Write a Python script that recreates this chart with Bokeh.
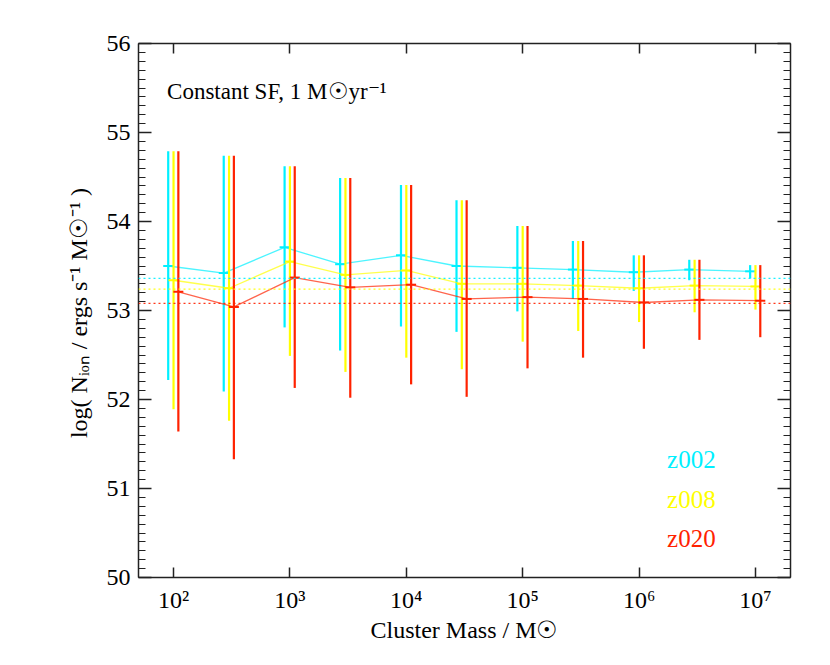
from bokeh.plotting import figure
from bokeh.models import (FixedTicker, SingleIntervalTicker, LinearAxis, LogAxis,
                          Span, Label, Range1d, CustomJSTickFormatter)
from bokeh.embed import file_html
from bokeh.resources import INLINE

# ---------------- data ----------------
mass = [1e2, 3e2, 1e3, 3e3, 1e4, 3e4, 1e5, 3e5, 1e6, 3e6, 1e7]

z002_mid = [53.50, 53.42, 53.71, 53.52, 53.62, 53.50, 53.48, 53.46, 53.43, 53.46, 53.44]
z002_hi = [54.79, 54.74, 54.62, 54.49, 54.41, 54.24, 53.95, 53.78, 53.62, 53.57, 53.51]
z002_lo = [52.22, 52.09, 52.81, 52.55, 52.82, 52.76, 52.99, 53.13, 53.22, 53.34, 53.36]

z008_mid = [53.34, 53.25, 53.55, 53.40, 53.45, 53.30, 53.30, 53.28, 53.25, 53.28, 53.27]
z008_hi = [54.79, 54.74, 54.62, 54.49, 54.41, 54.24, 53.95, 53.78, 53.62, 53.57, 53.51]
z008_lo = [51.89, 51.76, 52.49, 52.31, 52.47, 52.34, 52.65, 52.77, 52.87, 52.98, 53.01]

z020_mid = [53.21, 53.04, 53.37, 53.26, 53.29, 53.13, 53.15, 53.13, 53.09, 53.12, 53.11]
z020_hi = [54.79, 54.74, 54.62, 54.49, 54.41, 54.24, 53.95, 53.78, 53.62, 53.57, 53.51]
z020_lo = [51.64, 51.33, 52.13, 52.02, 52.17, 52.03, 52.35, 52.47, 52.57, 52.67, 52.70]

series_names = ["z002", "z008", "z020"]
series_mid = [z002_mid, z008_mid, z020_mid]
series_hi = [z002_hi, z008_hi, z020_hi]
series_lo = [z002_lo, z008_lo, z020_lo]
series_mean = [53.36, 53.24, 53.08]      # dotted reference levels
mass_shift = [0.9, 1.0, 1.1]             # horizontal offset factor per series

x_ticks = [1e2, 1e3, 1e4, 1e5, 1e6, 1e7]
x_tick_labels = ["10²", "10³", "10⁴", "10⁵", "10⁶", "10⁷"]

colors = ["#00f0ff", "#ffff00", "#ff2200"]
FONT = "Liberation Serif"

# ---------------- figure ----------------
p = figure(x_axis_type="log", frame_width=652, frame_height=534,
           x_range=Range1d(50, 2e7), y_range=Range1d(50, 56),
           output_backend="svg", toolbar_location=None,
           min_border_left=138, min_border_top=43, min_border_right=30,
           min_border_bottom=80, background_fill_color="white",
           border_fill_color="white")
p.grid.visible = False
p.outline_line_color = None


def style_axis(ax):
    ax.axis_line_color = "#222222"
    ax.axis_line_width = 1.5
    ax.major_tick_line_color = "#222222"
    ax.minor_tick_line_color = "#222222"
    ax.major_tick_line_width = 1.5
    ax.minor_tick_line_width = 1.2
    ax.major_tick_out = 0
    ax.minor_tick_out = 0
    ax.major_label_text_font = FONT
    ax.major_label_text_font_size = "24px"
    ax.major_label_text_color = "black"
    ax.axis_label_text_font = FONT
    ax.axis_label_text_font_size = "24px"
    ax.axis_label_text_font_style = "normal"
    ax.axis_label_text_color = "black"


def hide_labels(ax):
    ax.formatter = CustomJSTickFormatter(code="return '';")
    ax.major_label_text_font_size = "8px"
    ax.major_label_standoff = 0


xax = p.xaxis[0]
xax.ticker = FixedTicker(ticks=x_ticks, minor_ticks=[])
xax.major_label_overrides = {t: l for t, l in zip(x_ticks, x_tick_labels)}
style_axis(xax)
xax.major_tick_in = 10
xax.major_label_standoff = 9
xax.axis_label = "Cluster Mass / M☉"
xax.axis_label_standoff = 1

yax = p.yaxis[0]
yax.ticker = SingleIntervalTicker(interval=1, num_minor_ticks=10)
style_axis(yax)
yax.major_tick_in = 13
yax.minor_tick_in = 7
yax.major_label_standoff = 8
yax.axis_label = "log( Nᵢₒₙ / ergs s⁻¹ M☉⁻¹ )"
yax.axis_label_standoff = 12

top = LogAxis(ticker=FixedTicker(ticks=x_ticks, minor_ticks=[]))
style_axis(top)
hide_labels(top)
top.major_tick_in = 10
p.add_layout(top, "above")

right = LinearAxis(ticker=SingleIntervalTicker(interval=1, num_minor_ticks=10))
style_axis(right)
hide_labels(right)
right.major_tick_in = 13
right.minor_tick_in = 7
p.add_layout(right, "right")

# ---------------- marks ----------------
for name, mid, hi, lo, mean, shift, col in zip(series_names, series_mid, series_hi,
                                               series_lo, series_mean, mass_shift, colors):
    xs = [m * shift for m in mass]
    p.add_layout(Span(location=mean, dimension="width", line_color=col,
                      line_dash="2 3", line_width=1.2, line_alpha=0.9))
    p.segment(x0=xs, y0=lo, x1=xs, y1=hi, line_color=col, line_width=2.2)
    p.line(xs, mid, line_color=col, line_width=1.3, line_alpha=0.7)
    p.scatter(xs, mid, marker="dash", size=10, line_color=col, line_width=2)

# ---------------- texts ----------------
p.add_layout(Label(x=88, y=55.46, text="Constant SF, 1 M☉yr⁻¹", text_font=FONT,
                   text_font_size="23px", text_color="black",
                   text_baseline="alphabetic", text_align="left"))

legend_y = [51.33, 50.88, 50.44]
for name, ly, col in zip(series_names, legend_y, colors):
    p.add_layout(Label(x=1.74e6, y=ly, text=name, text_font=FONT,
                       text_font_size="25px", text_color=col,
                       text_baseline="alphabetic", text_align="left"))

open("out.html", "w").write(file_html(p, INLINE))
